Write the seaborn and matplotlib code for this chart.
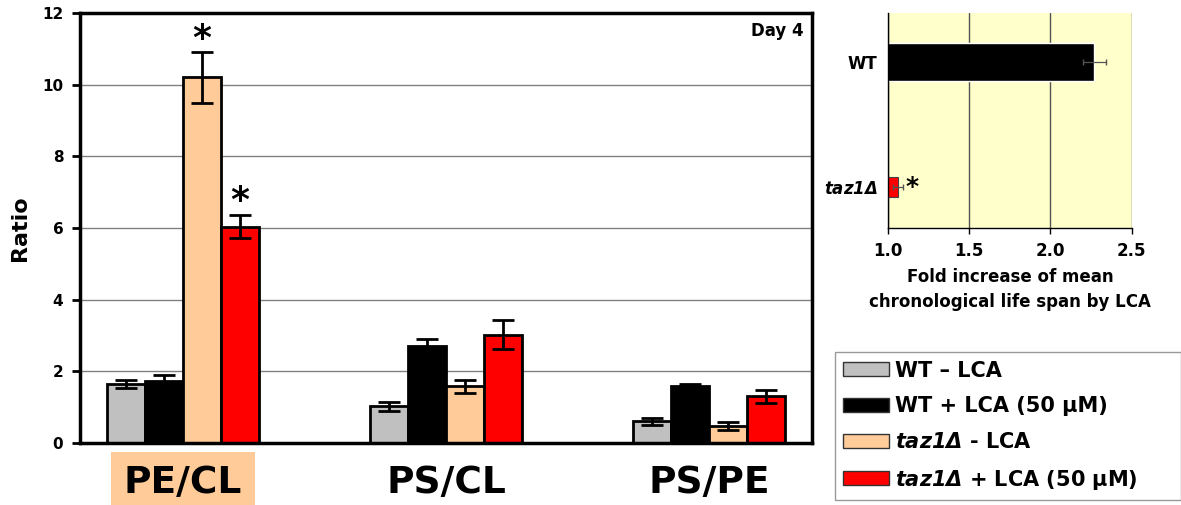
import pandas as pd
import seaborn as sns
import matplotlib.pyplot as plt
from matplotlib.patches import Patch

# ratios (Day 4)
ratios = ['PE/CL', 'PS/CL', 'PS/PE']
conditions = ['WT \u2013 LCA', 'WT + LCA (50 \u00b5M)', 'taz1\u0394 - LCA', 'taz1\u0394 + LCA (50 \u00b5M)']
wt_minus = [1.65, 1.02, 0.60]
wt_plus = [1.73, 2.70, 1.60]
taz_minus = [10.20, 1.58, 0.47]
taz_plus = [6.04, 3.02, 1.30]
wt_minus_err = [0.12, 0.12, 0.10]
wt_plus_err = [0.18, 0.19, 0.04]
taz_minus_err = [0.70, 0.18, 0.12]
taz_plus_err = [0.32, 0.40, 0.18]
colors = ['#C0C0C0', '#000000', '#FFCC99', '#FF0000']

# inset: fold increase of mean CLS by LCA
strains = ['WT', 'taz1\u0394']
fold = [2.27, 1.06]
fold_err = [0.07, 0.03]
strain_colors = ['#000000', '#FF0000']

sns.set_style('white')
plt.rcParams['font.family'] = ['DejaVu Sans']
plt.rcParams['font.weight'] = 'bold'
plt.rcParams['text.color'] = 'black'
plt.rcParams['axes.labelcolor'] = 'black'
plt.rcParams['xtick.color'] = 'black'
plt.rcParams['ytick.color'] = 'black'
plt.rcParams['mathtext.fontset'] = 'custom'
plt.rcParams['mathtext.it'] = 'DejaVu Sans:bold:italic'
plt.rcParams['mathtext.rm'] = 'DejaVu Sans:bold:italic'

values = [wt_minus, wt_plus, taz_minus, taz_plus]
errors = [wt_minus_err, wt_plus_err, taz_minus_err, taz_plus_err]
rows = []
for c, vals in zip(conditions, values):
    for r, v in zip(ratios, vals):
        rows.append({'ratio': r, 'condition': c, 'value': v})
df = pd.DataFrame(rows)

fig = plt.figure(figsize=(11.81, 5.05), dpi=100)
ax = fig.add_axes([0.0677, 0.1228, 0.6199, 0.8515])

sns.barplot(data=df, x='ratio', y='value', hue='condition', order=ratios,
            hue_order=conditions, palette=colors, saturation=1, width=0.58, gap=0,
            edgecolor='black', linewidth=2, errorbar=None, legend=False, ax=ax)

for cont, errs in zip(ax.containers, errors):
    for bar, e in zip(cont, errs):
        xc = bar.get_x() + bar.get_width() / 2
        ax.errorbar(xc, bar.get_height(), yerr=e, color='black', lw=2,
                    capsize=8, capthick=2, zorder=5)

# significance stars over taz1 bars in PE/CL
for ci in (2, 3):
    bar = ax.containers[ci][0]
    top = bar.get_height() + errors[ci][0]
    ax.text(bar.get_x() + bar.get_width() / 2, top + 0.1, '*', ha='center',
            va='baseline', fontsize=26, fontweight='bold')

ax.set_ylim(0, 12)
ax.set_xlim(-0.392, 2.392)
ax.set_yticks(range(0, 13, 2))
ax.yaxis.grid(True, color='#808080', lw=1)
ax.set_axisbelow(True)
for s in ax.spines.values():
    s.set_color('black')
    s.set_linewidth(2.5)
ax.tick_params(axis='y', left=True, length=6, width=2, labelsize=11, pad=6)
ax.tick_params(axis='x', bottom=False, labelsize=27, pad=12)
ax.set_xlabel('')
ax.set_ylabel('Ratio', fontsize=16, fontweight='bold', labelpad=9)
for t in ax.get_yticklabels() + ax.get_xticklabels():
    t.set_fontweight('bold')
ax.get_xticklabels()[0].set_bbox(dict(facecolor='#FFCC99', edgecolor='none', pad=9))
ax.text(0.988, 0.978, 'Day 4', transform=ax.transAxes, ha='right', va='top',
        fontsize=12, fontweight='bold')

# inset horizontal bars
ax2 = fig.add_axes([0.752, 0.5485, 0.2061, 0.4257])
ax2.set_facecolor('#FFFFCC')
sdf = pd.DataFrame({'strain': strains, 'fold': fold})
sns.barplot(data=sdf, y='strain', x='fold', hue='strain', palette=strain_colors,
            saturation=1, orient='h', width=0.3, errorbar=None, legend=False, ax=ax2)
# the taz1 bar is drawn thinner in the original
tb = ax2.containers[1][0]
cy = tb.get_y() + tb.get_height() / 2
tb.set_height(0.16)
tb.set_y(cy - 0.08)
tb.set_edgecolor('#444444')
tb.set_linewidth(0.8)
for cont, e in zip(ax2.containers, fold_err):
    b = cont[0]
    ax2.errorbar(b.get_width(), b.get_y() + b.get_height() / 2, xerr=e,
                 color='#555555', lw=0.9, capsize=2.5, zorder=5)
ax2.text(1.11, 1, '*', ha='left', va='center', fontsize=18, fontweight='bold')
ax2.set_xlim(1.0, 2.5)
ax2.set_ylim(1.33, -0.39)
ax2.set_xticks([1.0, 1.5, 2.0, 2.5])
ax2.set_xticklabels(['1.0', '1.5', '2.0', '2.5'], fontweight='bold', fontsize=12)
ax2.set_yticks([0, 1])
ax2.set_yticklabels(['WT', r'$\mathit{taz1\Delta}$'], fontweight='bold', fontsize=12)
ax2.xaxis.grid(True, color='#555555', lw=1)
ax2.set_axisbelow(True)
ax2.tick_params(axis='x', bottom=True, length=4, width=1, pad=6)
ax2.tick_params(axis='y', left=False, pad=4)
for side in ('top', 'right'):
    ax2.spines[side].set_visible(False)
for side in ('left', 'bottom'):
    ax2.spines[side].set_color('black')
    ax2.spines[side].set_linewidth(1)
ax2.set_ylabel('')
ax2.set_xlabel('Fold increase of mean\nchronological life span by LCA',
               fontsize=12, fontweight='bold', labelpad=6, linespacing=1.5)

# legend
leg_labels = ['WT \u2013 LCA', 'WT + LCA (50 \u00b5M)',
              r'$\mathit{taz1\Delta}$ - LCA', r'$\mathit{taz1\Delta}$ + LCA (50 ' + '\u00b5M)']
handles = [Patch(facecolor=c, edgecolor='#333333', lw=1) for c in colors]
leg = fig.legend(handles, leg_labels, loc='lower left',
                 bbox_to_anchor=(0.707, 0.01, 0.293, 0.30), mode='expand',
                 prop={'weight': 'bold', 'size': 15}, handlelength=2.2,
                 handleheight=0.65, handletextpad=0.3, labelspacing=0.75,
                 borderaxespad=0, frameon=True, fancybox=False, borderpad=0.4)
leg.get_frame().set_edgecolor('#808080')
leg.get_frame().set_linewidth(1)

fig.savefig('out.png', dpi=100)
